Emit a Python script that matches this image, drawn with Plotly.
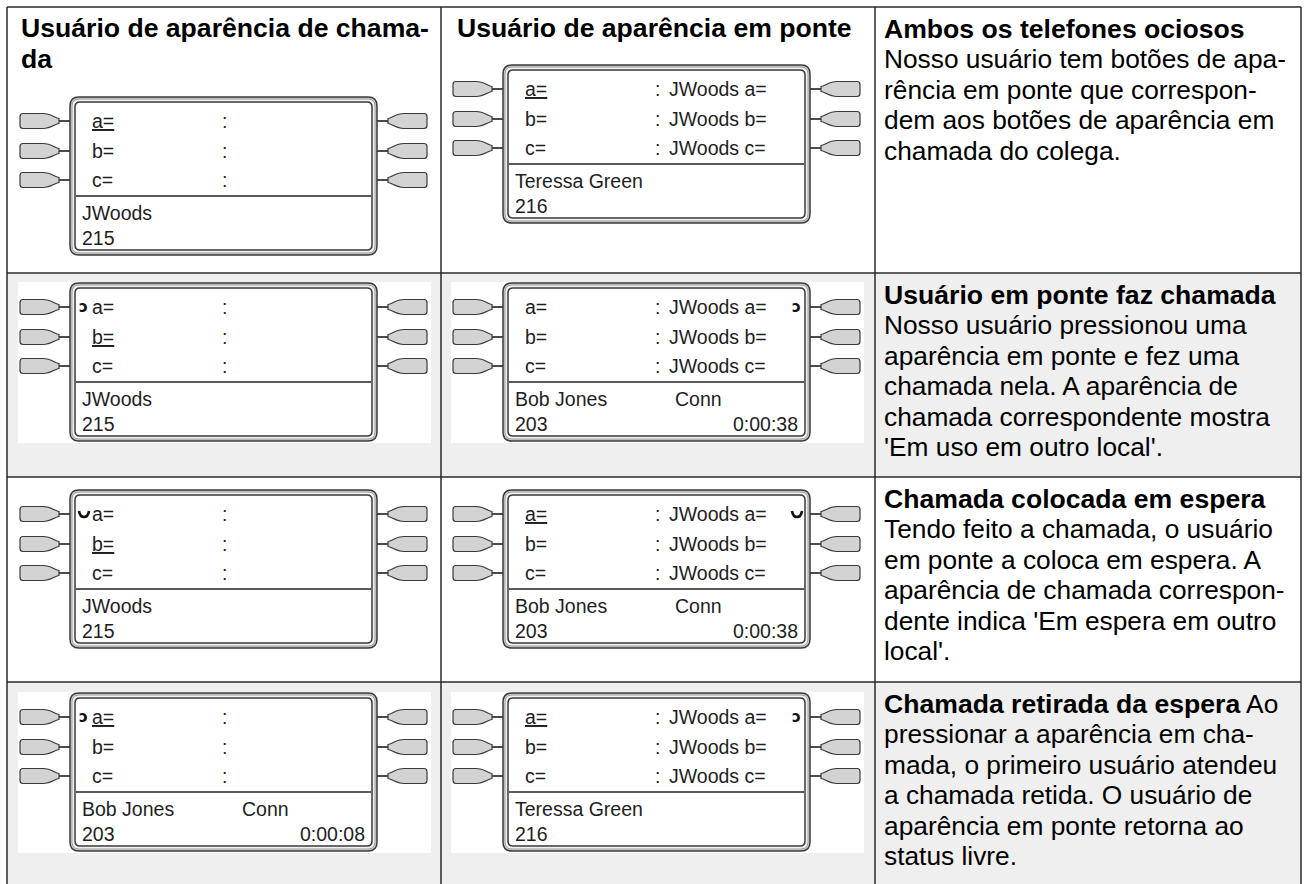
import plotly.graph_objects as go

W, H = 1308, 884

# ---------------- data ----------------
col1_header = ["Usuário de aparência de chama-", "da"]
col2_header = ["Usuário de aparência em ponte"]

line_keys = ["a=", "b=", "c="]
bridged_keys = ["JWoods a=", "JWoods b=", "JWoods c="]

caller_underlined = [0, 1, 1, 0]
bridged_underlined = [0, None, 0, 0]
caller_icon = ["", "active", "hold", "active"]
bridged_icon = ["", "active", "hold", "active"]

caller_name = ["JWoods", "JWoods", "JWoods", "Bob Jones"]
caller_number = ["215", "215", "215", "203"]
caller_status = ["", "", "", "Conn"]
caller_timer = ["", "", "", "0:00:08"]

bridged_name = ["Teressa Green", "Bob Jones", "Bob Jones", "Teressa Green"]
bridged_number = ["216", "203", "203", "216"]
bridged_status = ["", "Conn", "Conn", ""]
bridged_timer = ["", "0:00:38", "0:00:38", ""]

desc_title = ["Ambos os telefones ociosos",
              "Usuário em ponte faz chamada",
              "Chamada colocada em espera",
              "Chamada retirada da espera"]
desc_title_tail = ["", "", "", " Ao"]
desc_lines = [
    ["Nosso usuário tem botões de apa-",
     "rência em ponte que correspon-",
     "dem aos botões de aparência em",
     "chamada do colega."],
    ["Nosso usuário pressionou uma",
     "aparência em ponte e fez uma",
     "chamada nela. A aparência de",
     "chamada correspondente mostra",
     "'Em uso em outro local'."],
    ["Tendo feito a chamada, o usuário",
     "em ponte a coloca em espera. A",
     "aparência de chamada correspon-",
     "dente indica 'Em espera em outro",
     "local'."],
    ["pressionar a aparência em cha-",
     "mada, o primeiro usuário atendeu",
     "a chamada retida. O usuário de",
     "aparência em ponte retorna ao",
     "status livre."],
]

# ---------------- layout constants ----------------
COL_X = [7, 441, 875, 1301]
ROW_Y = [7, 273, 477, 682, 900]
ROW_FILL = ["#ffffff", "#efefef", "#ffffff", "#efefef"]
PHONE_L = [70, 503]
PHONE_W = 307
PHONE_T = [[97, 65], [283, 283], [490, 490], [693, 693]]
PHONE_H = 158
LINE_OFF = [24, 54, 83]
DIV_OFF = 99
NAME_OFF = 116
NUM_OFF = 141

TXT_FONT = "Liberation Sans, Arial, sans-serif"
PH_FONT = "Liberation Sans, Arial, sans-serif"
PH_SIZE = 19.5
PH_COLOR = "#1e1e1e"
FRAME = "#3a3a3a"
BODY_SIZE = 26.3
BOLD_SIZE = 26.6

shapes = []
annots = []


def rrect(x0, y0, x1, y1, r):
    return (f"M {x0+r},{y0} L {x1-r},{y0} Q {x1},{y0} {x1},{y0+r} "
            f"L {x1},{y1-r} Q {x1},{y1} {x1-r},{y1} L {x0+r},{y1} "
            f"Q {x0},{y1} {x0},{y1-r} L {x0},{y0+r} Q {x0},{y0} {x0+r},{y0} Z")


def text(x, y, s, size=PH_SIZE, color=PH_COLOR, anchor="left", family=PH_FONT):
    annots.append(dict(x=x, y=y, text=s, showarrow=False, xanchor=anchor,
                       yanchor="middle", xref="x", yref="y",
                       font=dict(family=family, size=size, color=color),
                       borderpad=0))


def button(L, R, cy, side):
    if side == "left":
        x0, x1, x2, xe = L - 50, L - 27, L - 11, L
    else:
        x0, x1, x2, xe = R + 50, R + 27, R + 11, R
    s = 1 if side == "left" else -1
    h = 7.5
    p = (f"M {x0 + 3*s},{cy-h} L {x1},{cy-h} C {x1 + 8*s},{cy-h} {x2 - 4*s},{cy-3} {x2},{cy-2.5} "
         f"L {x2},{cy+2.5} C {x2 - 4*s},{cy+3} {x1 + 8*s},{cy+h} {x1},{cy+h} "
         f"L {x0 + 3*s},{cy+h} Q {x0},{cy+h} {x0},{cy+h-3} L {x0},{cy-h+3} "
         f"Q {x0},{cy-h} {x0 + 3*s},{cy-h} Z")
    shapes.append(dict(type="line", x0=x2, x1=xe, y0=cy, y1=cy,
                       line=dict(color="#4a4a4a", width=2)))
    shapes.append(dict(type="path", path=p, fillcolor="#d3d3d3",
                       line=dict(color=FRAME, width=1.2)))


def draw_icon(kind, x, y):
    if kind == "active":
        text(x - 1, y, "<b>ɔ</b>", size=15, family="DejaVu Sans", color="#111111")
    elif kind == "hold":
        shapes.append(dict(type="path",
                           path=f"M {x},{y-3} Q {x+1},{y+3} {x+5},{y+3} Q {x+9},{y+3} {x+10},{y-3}",
                           line=dict(color="#111111", width=2.6)))


def phone(L, T, right_keys, underline, icon, icon_side, name, number, status, timer):
    R = L + PHONE_W
    B = T + PHONE_H
    for off in LINE_OFF:
        button(L, R, T + off, "left")
        button(L, R, T + off, "right")
    shapes.append(dict(type="path", path=rrect(L, T, R, B, 9), fillcolor="#d6d6d6",
                       line=dict(color=FRAME, width=1.5)))
    shapes.append(dict(type="path", path=rrect(L + 2, T + 2, R - 2, B - 2, 7), fillcolor="#f2f2f2",
                       line=dict(color="#9a9a9a", width=1)))
    shapes.append(dict(type="path", path=rrect(L + 5, T + 5, R - 5, B - 5, 5), fillcolor="#ffffff",
                       line=dict(color=FRAME, width=1.5)))
    shapes.append(dict(type="line", x0=L + 6, x1=R - 6, y0=T + DIV_OFF, y1=T + DIV_OFF,
                       line=dict(color="#222222", width=1.5)))
    for i, off in enumerate(LINE_OFF):
        k = line_keys[i]
        if underline == i:
            k = f"<u>{k}</u>"
        text(L + 21, T + off, k)
        text(L + 151, T + off, ":")
        if right_keys:
            text(L + 165, T + off, right_keys[i])
    if icon:
        if icon_side == "left":
            draw_icon(icon, L + 9, T + LINE_OFF[0])
        else:
            draw_icon(icon, R - 18, T + LINE_OFF[0])
    text(L + 11, T + NAME_OFF, name)
    text(L + 11, T + NUM_OFF, number)
    if status:
        text(L + 171, T + NAME_OFF, status)
    if timer:
        text(R - 11, T + NUM_OFF, timer, anchor="right")


# row backgrounds
for r in range(4):
    shapes.append(dict(type="rect", x0=COL_X[0], x1=COL_X[3], y0=ROW_Y[r], y1=ROW_Y[r + 1],
                       fillcolor=ROW_FILL[r], line=dict(width=0), layer="below"))
    if ROW_FILL[r] != "#ffffff":
        for c in range(2):
            L = PHONE_L[c]
            T = PHONE_T[r][c]
            shapes.append(dict(type="rect", x0=L - 52, x1=L + PHONE_W + 54, y0=T - 1, y1=T + PHONE_H + 2,
                               fillcolor="#ffffff", line=dict(width=0), layer="below"))

# table lines
for y in ROW_Y[:4]:
    shapes.append(dict(type="line", x0=COL_X[0], x1=COL_X[3], y0=y, y1=y,
                       line=dict(color="#2a2a2a", width=1.5)))
for x in COL_X:
    shapes.append(dict(type="line", x0=x, x1=x, y0=ROW_Y[0], y1=ROW_Y[4],
                       line=dict(color="#2a2a2a", width=1.5)))

# headers
for i, s in enumerate(col1_header):
    text(20, 28 + 31 * i, f"<b>{s}</b>", size=BOLD_SIZE, color="#000000", family=TXT_FONT)
for i, s in enumerate(col2_header):
    text(456, 28 + 31 * i, f"<b>{s}</b>", size=BOLD_SIZE, color="#000000", family=TXT_FONT)

# phones
for r in range(4):
    phone(PHONE_L[0], PHONE_T[r][0], None, caller_underlined[r], caller_icon[r], "left",
          caller_name[r], caller_number[r], caller_status[r], caller_timer[r])
    phone(PHONE_L[1], PHONE_T[r][1], bridged_keys, bridged_underlined[r], bridged_icon[r], "right",
          bridged_name[r], bridged_number[r], bridged_status[r], bridged_timer[r])

# descriptions
for r in range(4):
    y0 = ROW_Y[r] + 22
    text(883, y0, f"<b>{desc_title[r]}</b>"
         + (f"<span style='font-size:{BODY_SIZE}px'>{desc_title_tail[r]}</span>" if desc_title_tail[r] else ""),
         size=BOLD_SIZE, color="#000000", family=TXT_FONT)
    for j, s in enumerate(desc_lines[r]):
        text(883, y0 + 30.4 * (j + 1), s, size=BODY_SIZE, color="#000000", family=TXT_FONT)

fig = go.Figure()
fig.update_layout(
    width=W, height=H,
    margin=dict(l=0, r=0, t=0, b=0),
    paper_bgcolor="#ffffff", plot_bgcolor="#ffffff",
    xaxis=dict(range=[0, W], visible=False, fixedrange=True),
    yaxis=dict(range=[H, 0], visible=False, fixedrange=True),
    shapes=shapes, annotations=annots, showlegend=False,
)
fig.write_html("out.html", config={"displayModeBar": False, "staticPlot": True},
               post_script="document.body.style.margin='0';document.body.style.overflow='hidden';")
